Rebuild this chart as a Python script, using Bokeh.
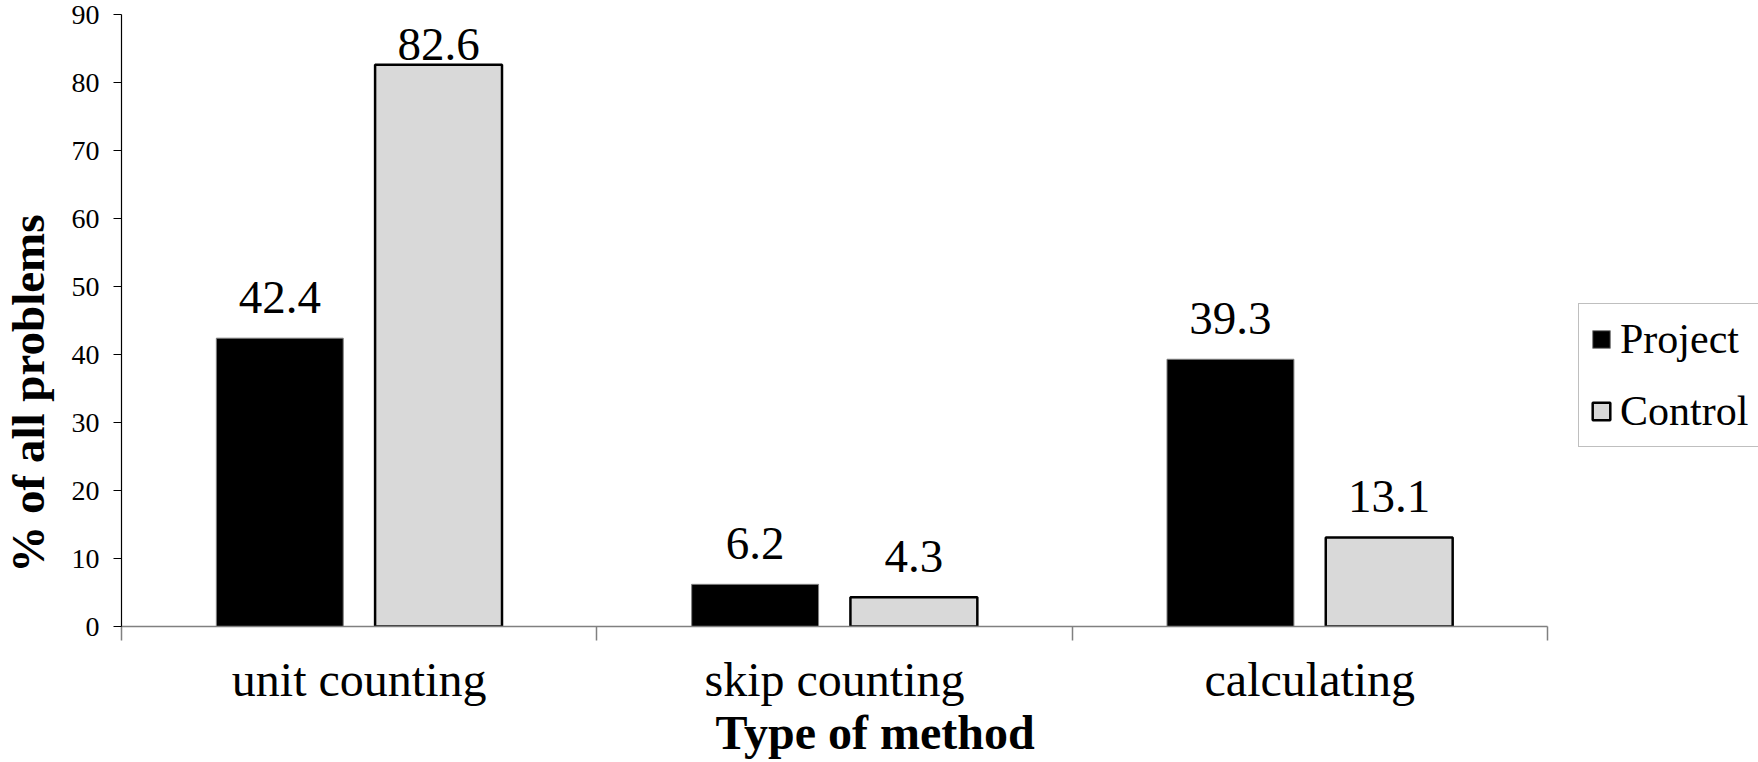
import math

from bokeh.core.properties import value
from bokeh.embed import file_html
from bokeh.layouts import row
from bokeh.models import (ColumnDataSource, FixedTicker, Label, Legend,
                          LegendItem, Range1d, Title)
from bokeh.plotting import figure
from bokeh.resources import INLINE
from bokeh.transform import dodge

# ---- data -----------------------------------------------------------------
methods = ["unit counting", "skip counting", "calculating"]
project = [42.4, 6.2, 39.3]
control = [82.6, 4.3, 13.1]
y_ticks = [0, 10, 20, 30, 40, 50, 60, 70, 80, 90]

# ---- layout constants -------------------------------------------------------
SERIF = "Liberation Serif"
TOTAL_W, TOTAL_H = 1758, 762
TITLE_W = 60                # strip holding the vertical axis title
FRAME_W, FRAME_H = 1426, 612
Y_MAX = 90
N = len(methods)
PX_Y = FRAME_H / Y_MAX      # pixels per percentage point
BAR_W = 0.267
SHIFT = 0.167
LABEL_GAP = 23              # px between bar top and value baseline
LABEL_CEIL = 82.9           # highest baseline a value label may take

centers = [i + 0.5 for i in range(N)]
bounds = [float(i) for i in range(N + 1)]


def label_y(v):
    return min(v + LABEL_GAP / PX_Y, LABEL_CEIL)


src = ColumnDataSource(dict(
    x=centers,
    project=project,
    control=control,
    project_txt=[f"{v:.1f}" for v in project],
    control_txt=[f"{v:.1f}" for v in control],
    project_ly=[label_y(v) for v in project],
    control_ly=[label_y(v) for v in control],
))

p = figure(
    frame_width=FRAME_W, frame_height=FRAME_H,
    x_range=Range1d(0, N), y_range=Range1d(0, Y_MAX),
    min_border_left=121 - TITLE_W, min_border_right=211,
    min_border_top=14, min_border_bottom=136,
    output_backend="svg", toolbar_location=None,
)
p.outline_line_color = None
p.xgrid.visible = False
p.ygrid.visible = False
p.background_fill_color = "white"
p.border_fill_color = "white"

# x axis: category names between boundary ticks
xa = p.xaxis[0]
xa.ticker = FixedTicker(ticks=centers, minor_ticks=bounds)
xa.major_label_overrides = {c: m for c, m in zip(centers, methods)}
xa.axis_line_color = "#808080"
xa.axis_line_width = 1.5
xa.major_tick_out = 0
xa.major_tick_in = 0
xa.minor_tick_out = 14
xa.minor_tick_in = 0
xa.minor_tick_line_color = "#808080"
xa.minor_tick_line_width = 1.5
xa.major_label_text_font = SERIF
xa.major_label_text_font_size = "48px"
xa.major_label_text_color = "black"
xa.major_label_standoff = 12

# y axis
ya = p.yaxis[0]
ya.ticker = FixedTicker(ticks=y_ticks)
ya.axis_line_color = "black"
ya.axis_line_width = 1.2
ya.major_tick_out = 8
ya.major_tick_in = 0
ya.major_tick_line_color = "black"
ya.minor_tick_out = 0
ya.minor_tick_in = 0
ya.major_label_text_font = SERIF
ya.major_label_text_font_size = "28px"
ya.major_label_text_color = "black"
ya.major_label_standoff = 14

# bars
r_proj = p.vbar(x=dodge("x", -SHIFT, range=p.x_range), top="project", width=BAR_W,
                source=src, fill_color="black", line_color="#808080", line_width=1)
r_ctrl = p.vbar(x=dodge("x", SHIFT, range=p.x_range), top="control", width=BAR_W,
                source=src, fill_color="#d9d9d9", line_color="black", line_width=2.5)

# value labels
for col, ly, sh in (("project_txt", "project_ly", -SHIFT), ("control_txt", "control_ly", SHIFT)):
    p.text(x=dodge("x", sh, range=p.x_range), y=ly, text=col, source=src,
           text_font=value(SERIF), text_font_size="47px", text_color="black",
           text_align="center", text_baseline="alphabetic", y_offset=-18)

# x axis title
x_title = Title(
    text="Type of method", align="left", offset=594, vertical_align="top",
    text_font=SERIF, text_font_style="bold", text_font_size="48px", text_color="black")
try:
    x_title.standoff = -6
except ValueError:
    x_title.standoff = 0
p.add_layout(x_title, "below")

# legend
legend = Legend(
    items=[LegendItem(label="Project", renderers=[r_proj]),
           LegendItem(label="Control", renderers=[r_ctrl])],
    location=(31, 624 - 445),
    border_line_color="#808080", border_line_width=1.2,
    background_fill_color="white", background_fill_alpha=1,
    label_text_font_size="42px", label_text_color="black",
    glyph_width=22, glyph_height=22, label_standoff=8,
    padding=11, spacing=24, margin=0,
)
try:
    legend.label_text_font = value(SERIF)
except ValueError:
    legend.label_text_font = SERIF
p.add_layout(legend, "right")

# narrow strip on the left carrying the vertical y axis title
t = figure(
    width=TITLE_W, height=TOTAL_H,
    x_range=Range1d(0, TITLE_W), y_range=Range1d(0, TOTAL_H),
    x_axis_type=None, y_axis_type=None, min_border=0,
    output_backend="svg", toolbar_location=None,
)
t.outline_line_color = None
t.background_fill_color = "white"
t.border_fill_color = "white"
t.add_layout(Label(
    x=27, y=290, text="% of all problems",
    angle=math.pi / 2, text_align="center", text_baseline="middle",
    text_font=SERIF, text_font_style="bold", text_font_size="47px", text_color="black"))

layout = row(t, p, spacing=0)
open("out.html", "w").write(file_html(layout, INLINE))
